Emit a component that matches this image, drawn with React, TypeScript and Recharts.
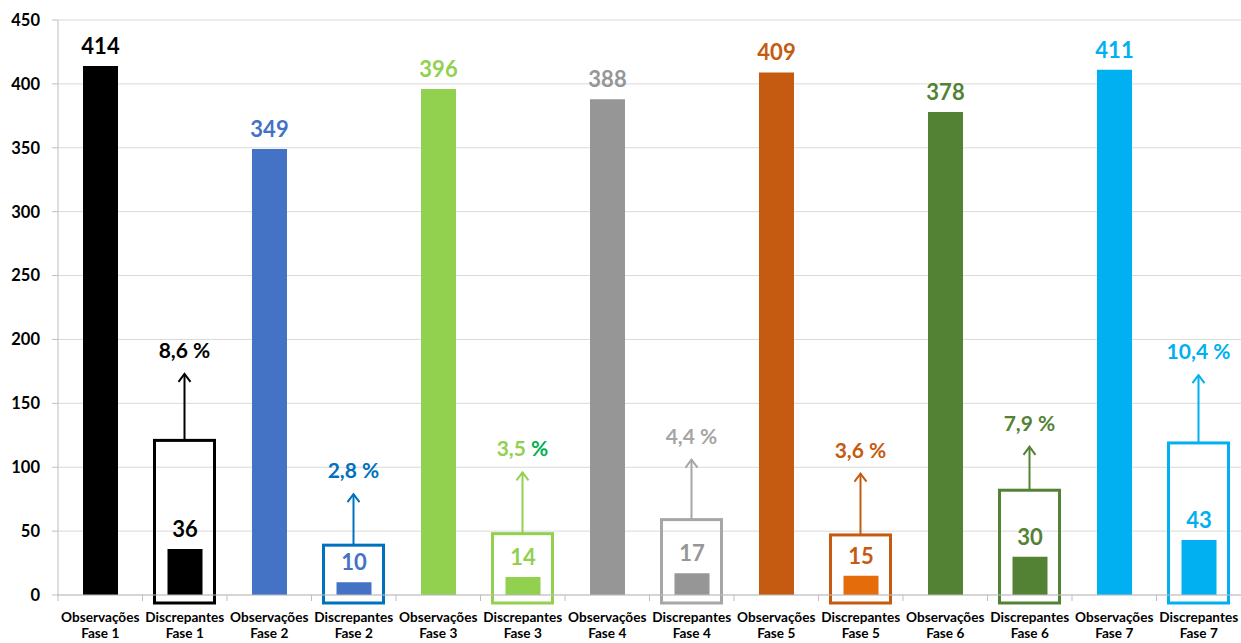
import { BarChart, Bar, XAxis, YAxis, CartesianGrid, Cell, LabelList } from 'recharts'

const FONT = 'Lato, "Open Sans", sans-serif'

const categories = [
  'Observações Fase 1', 'Discrepantes Fase 1',
  'Observações Fase 2', 'Discrepantes Fase 2',
  'Observações Fase 3', 'Discrepantes Fase 3',
  'Observações Fase 4', 'Discrepantes Fase 4',
  'Observações Fase 5', 'Discrepantes Fase 5',
  'Observações Fase 6', 'Discrepantes Fase 6',
  'Observações Fase 7', 'Discrepantes Fase 7',
]

const counts = [414, 36, 349, 10, 396, 14, 388, 17, 409, 15, 378, 30, 411, 43]

// outline box top and arrow tip, only for the "Discrepantes" columns
const boxTops = [null, 121, null, 39, null, 48, null, 59, null, 47, null, 82, null, 119]
const arrowTips = [null, 173, null, 79, null, 96, null, 106, null, 95, null, 116, null, 172]
const percentages = [null, '8,6', null, '2,8', null, '3,5', null, '4,4', null, '3,6', null, '7,9', null, '10,4']

const barColors = [
  '#000000', '#000000', '#4472C4', '#4472C4', '#92D050', '#92D050', '#969696',
  '#969696', '#C55A11', '#E46C0A', '#548235', '#548235', '#00B0F0', '#00B0F0',
]
const labelColors = [
  '#000000', '#000000', '#4472C4', '#4472C4', '#92D050', '#92D050', '#969696',
  '#969696', '#C55A11', '#C55A11', '#548235', '#548235', '#00B0F0', '#00B0F0',
]
const accentColors = [
  null, '#000000', null, '#0070C0', null, '#92D050', null,
  '#A6A6A6', null, '#C55A11', null, '#548235', null, '#00B0F0',
]
const percentSignColors = [
  null, '#000000', null, '#0070C0', null, '#00B050', null,
  '#A6A6A6', null, '#C55A11', null, '#548235', null, '#00B0F0',
]

const yTicks = [0, 50, 100, 150, 200, 250, 300, 350, 400, 450]

const data = categories.map((label, i) => ({
  label,
  value: counts[i],
  box: boxTops[i] == null ? null : [0, boxTops[i]],
  arrow: boxTops[i] == null ? null : [boxTops[i], arrowTips[i]],
}))

// recharts skips the null rows, so look the column up by its label
const rowIndex = (payload: any) => categories.indexOf(payload?.label)

function BoxShape(props: any) {
  const { x, y, width, height, payload } = props
  const i = rowIndex(payload)
  if (i < 0 || boxTops[i] == null || height == null) return null
  // box reaches a little below the baseline, like the original
  return (
    <rect x={x} y={y} width={width} height={height + 8} fill="none"
      stroke={accentColors[i] as string} strokeWidth={3} />
  )
}

function ArrowShape(props: any) {
  const { x, y, width, height, payload } = props
  const i = rowIndex(payload)
  if (i < 0 || boxTops[i] == null || height == null) return null
  const cx = x + width / 2
  const color = accentColors[i] as string
  return (
    <g>
      <line x1={cx} y1={y + height} x2={cx} y2={y} stroke={color} strokeWidth={2} />
      <polyline points={`${cx - 6},${y + 8} ${cx},${y} ${cx + 6},${y + 8}`}
        fill="none" stroke={color} strokeWidth={2} />
      <text x={cx} y={y - 16} textAnchor="middle" fontSize={21} fontWeight={700}
        fill={color} fontFamily={FONT}>
        {percentages[i] + ' '}
        <tspan fill={percentSignColors[i] as string}>%</tspan>
      </text>
    </g>
  )
}

function ValueLabel(props: any) {
  const { x, y, width, value, index } = props
  return (
    <text x={x + width / 2} y={y - 12} textAnchor="middle" fontSize={22} fontWeight={700}
      fill={labelColors[index]} fontFamily={FONT}>
      {value}
    </text>
  )
}

function CategoryTick(props: any) {
  const { x, y, payload } = props
  const text: string = payload.value
  const cut = text.indexOf(' ')
  const half = payload.offset ?? 42
  return (
    <g>
      <line x1={x - half} y1={y} x2={x - half} y2={y + 6} stroke="#BFBFBF" />
      <text x={x} y={y + 27} textAnchor="middle" fontSize={13.6} fontWeight={700}
        fill="#000" fontFamily={FONT}>
        {text.slice(0, cut)}
      </text>
      <text x={x} y={y + 43} textAnchor="middle" fontSize={13.6} fontWeight={700}
        fill="#000" fontFamily={FONT}>
        {text.slice(cut + 1)}
      </text>
    </g>
  )
}

export default function App() {
  return (
    <div style={{ position: 'absolute', left: 0, top: 0, background: '#fff', fontFamily: FONT }}>
      <BarChart width={1241} height={643} data={data}
        margin={{ top: 20, right: 0, left: 0, bottom: 0 }}>
        <CartesianGrid vertical={false} stroke="#D9D9D9" />
        <XAxis dataKey="label" interval={0} height={48} tickLine={false} tickSize={0}
          tickMargin={0} stroke="#BFBFBF" tick={<CategoryTick />} />
        <XAxis xAxisId="box" dataKey="label" hide />
        <XAxis xAxisId="arrow" dataKey="label" hide />
        <YAxis domain={[0, 450]} ticks={yTicks} width={58} tickSize={6} tickMargin={12}
          stroke="#BFBFBF" tick={{ fontSize: 16.5, fontWeight: 700, fill: '#000', fontFamily: FONT }} />
        <Bar dataKey="value" barSize={35} isAnimationActive={false}>
          {data.map((_, i) => (
            <Cell key={i} fill={barColors[i]} />
          ))}
          <LabelList dataKey="value" content={<ValueLabel />} />
        </Bar>
        <Bar xAxisId="box" dataKey="box" barSize={60} shape={<BoxShape />} isAnimationActive={false} />
        <Bar xAxisId="arrow" dataKey="arrow" barSize={20} shape={<ArrowShape />} isAnimationActive={false} />
      </BarChart>
    </div>
  )
}
